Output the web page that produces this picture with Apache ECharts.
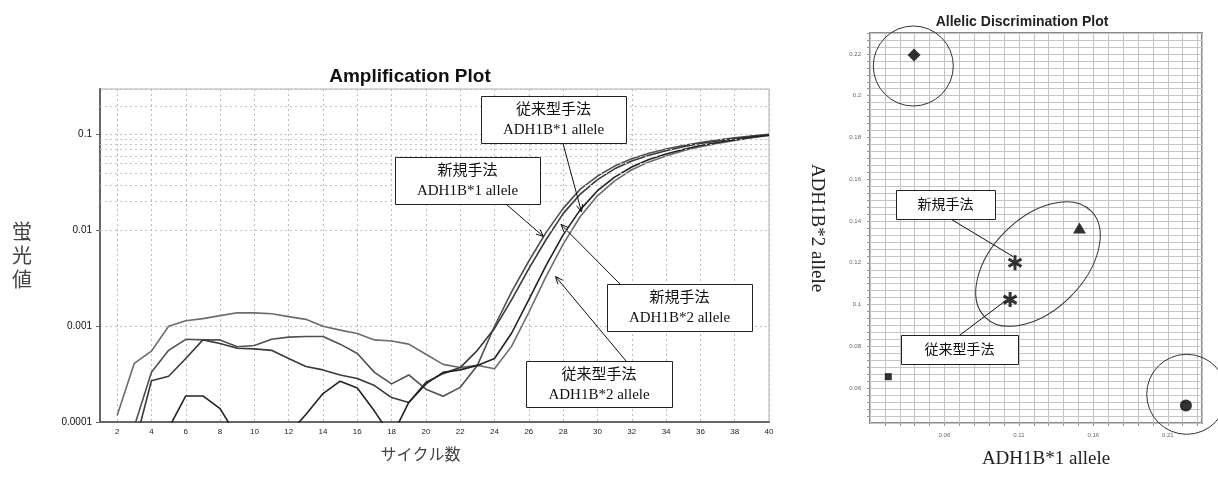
<!DOCTYPE html>
<html><head><meta charset="utf-8">
<script src="https://cdn.jsdelivr.net/npm/echarts@6/dist/echarts.min.js"></script>
<style>html,body{margin:0;padding:0;background:#fff}#c{width:1218px;height:478px}</style>
</head><body><div id="c"></div>
<script>
// ---------- Amplification plot data ----------
const cycles = [1,2,3,4,5,6,7,8,9,10,11,12,13,14,15,16,17,18,19,20,21,22,23,24,25,26,27,28,29,30,31,32,33,34,35,36,37,38,39,40];
const cycleLabels = cycles.map(String);
// four amplification curves (fluorescence per cycle, cycle 1 not recorded)
const ampA = [null,1.17e-4,4.1e-4,5.5e-4,1.0e-3,1.14e-3,1.2e-3,1.29e-3,1.38e-3,1.38e-3,1.35e-3,1.26e-3,1.18e-3,1.0e-3,9.1e-4,8.4e-4,7.2e-4,7.0e-4,6.5e-4,5.1e-4,4.0e-4,3.7e-4,3.9e-4,3.6e-4,6.2e-4,1.4e-3,3.3e-3,7.2e-3,1.4e-2,2.3e-2,3.3e-2,4.3e-2,5.2e-2,6.0e-2,6.8e-2,7.5e-2,8.1e-2,8.7e-2,9.3e-2,9.8e-2];
const ampB = [null,2.0e-5,9.0e-5,3.3e-4,5.6e-4,7.3e-4,7.2e-4,7.2e-4,6.1e-4,6.3e-4,7.3e-4,7.7e-4,7.8e-4,7.8e-4,6.5e-4,5.2e-4,3.3e-4,2.5e-4,3.1e-4,2.2e-4,1.86e-4,2.3e-4,3.9e-4,1.0e-3,2.3e-3,4.8e-3,9.5e-3,1.7e-2,2.7e-2,3.7e-2,4.7e-2,5.6e-2,6.4e-2,7.1e-2,7.7e-2,8.3e-2,8.8e-2,9.3e-2,9.7e-2,1.01e-1];
const ampC = [null,1.5e-5,5.5e-5,2.7e-4,3.0e-4,4.6e-4,7.2e-4,6.6e-4,5.9e-4,5.8e-4,5.6e-4,4.6e-4,3.8e-4,3.5e-4,3.1e-4,2.85e-4,2.4e-4,1.8e-4,1.6e-4,2.6e-4,3.2e-4,3.7e-4,5.6e-4,9.5e-4,1.9e-3,4.0e-3,8.0e-3,1.5e-2,2.4e-2,3.4e-2,4.4e-2,5.3e-2,6.1e-2,6.8e-2,7.5e-2,8.1e-2,8.6e-2,9.1e-2,9.6e-2,1.0e-1];
const ampD = [null,2.0e-5,3.0e-5,5.0e-5,8.6e-5,1.87e-4,1.87e-4,1.38e-4,7.0e-5,5.0e-5,5.0e-5,7.5e-5,1.2e-4,1.98e-4,2.67e-4,2.27e-4,1.3e-4,7.0e-5,1.6e-4,2.5e-4,3.3e-4,3.5e-4,3.9e-4,4.6e-4,8.5e-4,1.9e-3,4.3e-3,9.0e-3,1.65e-2,2.6e-2,3.6e-2,4.6e-2,5.5e-2,6.3e-2,7.0e-2,7.7e-2,8.3e-2,8.8e-2,9.4e-2,9.9e-2];
const ampYTicks = [0.0001,0.001,0.01,0.1];
const ampMinorGrid = [0.0002,0.0003,0.0004,0.0005,0.0006,0.0007,0.0008,0.0009,0.002,0.003,0.004,0.005,0.006,0.007,0.008,0.009,0.02,0.03,0.04,0.05,0.06,0.07,0.08,0.09,0.2];

// ---------- Allelic discrimination data ----------
const adSamples = ['A','B','新規手法','従来型手法','NTC','C'];
const adAllele1 = [0.0396,0.1507,0.1074,0.1041,0.0223,0.2222];
const adAllele2 = [0.2195,0.1367,0.1200,0.1024,0.0655,0.0517];
const adXTicks = [0.06,0.11,0.16,0.21];
const adYTicks = [0.06,0.08,0.1,0.12,0.14,0.16,0.18,0.2,0.22];

// ---------- styles ----------
const ASTERISK = 'path://M2 10L-2 10L-2 -10L2 -10Z M9.66 3.268L7.66 6.732L-9.66 -3.268L-7.66 -6.732Z M-7.66 6.732L-9.66 3.268L7.66 -6.732L9.66 -3.268Z';
const adSymbols = ['diamond','triangle',ASTERISK,ASTERISK,'rect','circle'];
const adSizes = [[13,13],[13,11],[15,15],[15,15],[7,7],[12,12]];
const serif = '"Liberation Serif","Noto Sans CJK JP",serif';
const serifFont = (s)=> s + 'px ' + serif;
const AD_Y_STEP = 1/300;

const chart = echarts.init(document.getElementById('c'), null, {renderer:'canvas'});

function matchTick(v, ticks){
  for (const t of ticks){ if (Math.abs(v - t) < 1e-7) return t; }
  return null;
}
function arrowHead(x1,y1,x2,y2,len,ang){
  const a = Math.atan2(y2-y1, x2-x1);
  return [[x2 - len*Math.cos(a-ang), y2 - len*Math.sin(a-ang)],[x2,y2],[x2 - len*Math.cos(a+ang), y2 - len*Math.sin(a+ang)]];
}
function box(x,y,w,h,text,fs,lh){
  return [
    {type:'rect', z:100, shape:{x:x+0.5,y:y+0.5,width:w,height:h}, style:{fill:'#fff',stroke:'#222',lineWidth:1}},
    {type:'text', z:101, x:x+w/2, y:y+h/2+1, style:{text:text, align:'center', verticalAlign:'middle', font:serifFont(fs), lineHeight:lh, fill:'#111'}}
  ];
}
function arrow(x1,y1,x2,y2,head){
  const els = [{type:'line', z:99, shape:{x1,y1,x2,y2}, style:{stroke:'#111',lineWidth:1}}];
  if (head) els.push({type:'polyline', z:99, shape:{points:arrowHead(x1,y1,x2,y2,8,0.4)}, style:{stroke:'#111',lineWidth:1,fill:null}});
  return els;
}

const curveStyle = (c)=>({type:'line', xAxisIndex:0, yAxisIndex:0, showSymbol:false, symbol:'none', smooth:false, clip:true,
  lineStyle:{color:c, width:1.6}, z:3});

const option = {
  animation:false,
  backgroundColor:'#fff',
  title:[
    {text:'Amplification Plot', left:405, top:62, textAlign:'center', textStyle:{fontFamily:'"Liberation Sans",Arial,sans-serif', fontWeight:'bold', fontSize:19, color:'#111'}},
    {text:'Allelic Discrimination Plot', left:1017, top:10, textAlign:'center', textStyle:{fontFamily:'"Liberation Sans",Arial,sans-serif', fontWeight:'bold', fontSize:14, color:'#222'}}
  ],
  grid:[
    {left:100, top:89, width:669, height:333, show:true, borderColor:'#b0b0b0', borderWidth:1},
    {left:870, top:33, width:332, height:390, show:true, borderColor:'#8a8a8a', borderWidth:2}
  ],
  xAxis:[
    {type:'category', gridIndex:0, data:cycleLabels, boundaryGap:false,
     name:'サイクル数', nameLocation:'middle', nameGap:24,
     nameTextStyle:{fontFamily:'"Noto Sans CJK JP",sans-serif', fontSize:16, color:'#444', padding:[0,28,0,0]},
     axisLine:{lineStyle:{color:'#666', width:2}},
     axisTick:{show:false},
     axisLabel:{interval:(i,v)=>Number(v)%2===0, fontSize:8, color:'#222', margin:6, fontFamily:'"Liberation Sans",Arial,sans-serif'},
     splitLine:{show:true, interval:(i,v)=>Number(v)%2===0, lineStyle:{type:[2,3], color:'#bdbdbd', width:1}}
    },
    {type:'value', gridIndex:1, min:0.01, max:0.233, interval:0.01,
     name:'ADH1B*1 allele', nameLocation:'middle', nameGap:27,
     nameTextStyle:{fontFamily:serif, fontSize:19, color:'#222', padding:[0,0,0,20]},
     axisLine:{show:false},
     axisTick:{show:true, length:3, lineStyle:{color:'#999'}},
     axisLabel:{fontSize:6, color:'#666', margin:9, showMinLabel:false, showMaxLabel:false,
       formatter:(v)=>{const t=matchTick(v,adXTicks); return t===null?'':String(t);}},
     splitLine:{show:true, lineStyle:{color:'#c4c4c4', width:1}}
    }
  ],
  yAxis:[
    {type:'log', logBase:10, gridIndex:0, min:0.0001, max:0.3,
     name:'蛍\n光\n値', nameLocation:'middle', nameGap:68, nameRotate:0,
     nameTextStyle:{fontFamily:'"Noto Sans CJK JP",sans-serif', fontSize:20, lineHeight:24, color:'#444'},
     axisLine:{show:true, lineStyle:{color:'#666', width:2}},
     axisTick:{show:true, length:4, lineStyle:{color:'#666'}},
     axisLabel:{fontSize:10, color:'#111', margin:8, fontFamily:'"Liberation Sans",Arial,sans-serif', showMaxLabel:false,
       formatter:(v)=>{const t=matchTick(v,ampYTicks); return t===null?'':String(t);}},
     splitLine:{show:true, lineStyle:{type:[2,3], color:'#bdbdbd', width:1}}
    },
    {type:'value', gridIndex:1, min:13*AD_Y_STEP, max:69*AD_Y_STEP, interval:AD_Y_STEP,
     name:'ADH1B*2 allele', nameLocation:'middle', nameGap:44, nameRotate:-90,
     nameTextStyle:{fontFamily:serif, fontSize:19, color:'#222'},
     axisLine:{show:false},
     axisTick:{show:true, length:3, lineStyle:{color:'#999'}},
     axisLabel:{fontSize:6, color:'#666', margin:9, showMinLabel:false, showMaxLabel:false,
       formatter:(v)=>{const t=matchTick(v,adYTicks); return t===null?'':String(t);}},
     splitLine:{show:true, lineStyle:{color:'#c4c4c4', width:1}}
    }
  ],
  series:[
    {type:'line', xAxisIndex:0, yAxisIndex:0, data:[], silent:true, z:1,
     markLine:{silent:true, symbol:['none','none'], label:{show:false}, animation:false,
       lineStyle:{type:[2,3], color:'#c4c4c4', width:1},
       data: ampMinorGrid.map(v=>({yAxis:v}))}},
    Object.assign(curveStyle('#6c6c6c'), {name:'A', data:ampA}),
    Object.assign(curveStyle('#505050'), {name:'B', data:ampB}),
    Object.assign(curveStyle('#3a3a3a'), {name:'C', data:ampC}),
    Object.assign(curveStyle('#222222'), {name:'D', data:ampD}),
    {type:'scatter', xAxisIndex:1, yAxisIndex:1, z:5, symbolKeepAspect:true,
     itemStyle:{color:'#000'},
     data: adAllele1.map((x,i)=>({name:adSamples[i], value:[x, adAllele2[i]], symbol:adSymbols[i], symbolSize:adSizes[i]}))}
  ],
  graphic:[].concat(
    box(481,96,145,47,'従来型手法\nADH1B*1 allele',15,20),
    box(395,157,145,47,'新規手法\nADH1B*1 allele',15,20),
    box(607,284,145,47,'新規手法\nADH1B*2 allele',15,20),
    box(526,361,146,46,'従来型手法\nADH1B*2 allele',15,20),
    arrow(563,143.5,581.5,212,true),
    arrow(506.5,204.5,543.5,236.5,true),
    arrow(620,284,561,224.5,true),
    arrow(626.5,361.5,555.5,276.5,true),
    box(896,190,99,29,'新規手法',14,18),
    box(901,335,117,29,'従来型手法',14,18),
    arrow(951.5,219.5,1013,256.5,false),
    arrow(960,335,1006.5,300,false),
    [
      {type:'circle', z:50, shape:{cx:913.3, cy:66, r:40}, style:{fill:null, stroke:'#333', lineWidth:1}},
      {type:'ellipse', z:50, x:1038, y:264, rotation:Math.PI/4, shape:{cx:0, cy:0, rx:75, ry:46}, style:{fill:null, stroke:'#333', lineWidth:1}},
      {type:'circle', z:50, shape:{cx:1186.7, cy:394.3, r:40}, style:{fill:null, stroke:'#333', lineWidth:1}}
    ]
  )
};
chart.setOption(option);
</script>
</body></html>
